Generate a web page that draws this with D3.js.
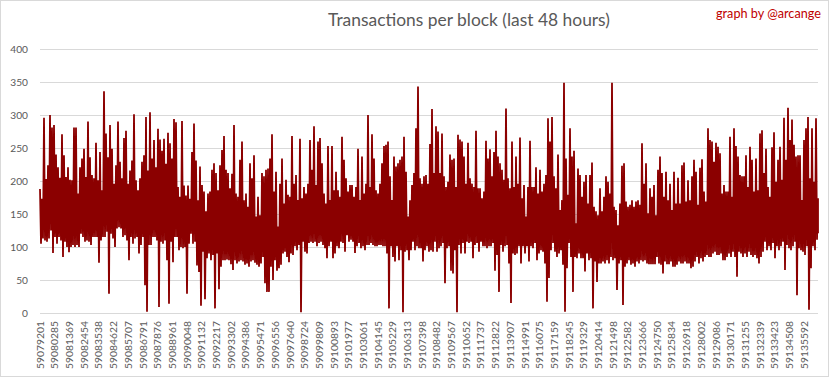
<!DOCTYPE html>
<html><head><meta charset="utf-8">
<script src="https://cdn.jsdelivr.net/npm/d3@7"></script>
<style>html,body{margin:0;padding:0;background:#fff;}svg{display:block;}</style>
</head><body>
<svg id="chart" width="833" height="379"></svg>
<script>
const titleText = "Transactions per block (last 48 hours)";
const creditText = "graph by @arcange";
const yTicks = [0, 50, 100, 150, 200, 250, 300, 350, 400];
const xTickLabels = ["59079201","59080285","59081369","59082454","59083538","59084622","59085707","59086791","59087876","59088961","59090048","59091132","59092217","59093302","59094386","59095471","59096556","59097640","59098724","59099809","59100893","59101977","59103061","59104145","59105229","59106313","59107398","59108482","59109567","59110652","59111737","59112822","59113907","59114991","59116075","59117159","59118245","59119329","59120414","59121498","59122582","59123666","59124750","59125834","59126918","59128002","59129086","59130171","59131255","59132339","59133423","59134508","59135592"];
const firstBlock = 59079201;
const lastBlock = 59136630;

// per-slice maximum and minimum transactions per block, read left to right
const txHigh = [
188,173,296,203,224,300,281,285,240,221,205,271,239,206,221,202,201,281,281,181,
221,234,249,206,290,236,209,204,258,201,244,186,336,272,236,285,249,196,224,290,
229,204,265,276,196,216,231,301,201,186,204,229,239,297,216,304,234,262,221,279,
263,246,264,226,273,257,234,294,289,191,176,291,193,178,193,173,244,287,231,171,
222,194,184,154,181,184,217,227,212,186,224,247,268,217,212,189,211,285,181,176,
232,260,171,181,161,227,204,239,146,176,148,212,207,217,219,234,271,184,214,131,
196,234,166,202,179,176,268,196,209,171,264,174,191,181,196,262,217,283,194,260,
265,227,181,166,253,171,253,186,214,186,176,267,232,204,184,194,194,176,191,249,
171,237,181,196,300,191,271,234,186,181,196,227,253,255,260,207,171,237,222,227,
232,237,267,214,146,171,194,212,280,343,204,
196,207,209,196,256,309,212,283,275,212,272,207,191,199,240,232,234,191,270,263,
260,237,196,258,204,196,191,276,189,189,174,184,261,234,248,207,244,276,237,227,
217,202,310,204,189,260,191,237,196,266,174,194,146,191,261,191,191,221,181,217,
184,196,209,295,260,297,207,189,240,156,171,349,234,179,280,237,246,136,219,209,
176,199,209,166,209,228,161,154,148,189,154,176,207,199,181,349,161,156,133,166,
223,227,169,161,164,171,161,169,171,164,
257,196,227,151,189,176,194,148,217,237,212,176,214,171,196,156,214,166,205,166,
224,228,169,201,171,207,232,214,164,220,233,184,169,280,262,260,229,258,252,242,
181,194,184,184,267,176,280,253,237,209,207,207,239,191,252,232,184,234,186,272,
277,212,249,191,176,251,274,199,232,252,202,296,232,311,262,293,255,237,239,239,
171,262,280,297,204,280,199,295,174
];
const txLow = [
105,113,110,108,113,125,91,115,105,115,110,85,108,100,92,100,103,100,103,100,
120,115,108,110,108,103,115,115,115,76,110,115,115,123,29,120,113,100,128,130,
128,115,118,110,80,115,105,113,115,90,103,115,42,2,103,103,115,115,110,9,
108,105,110,80,14,108,77,115,115,95,100,98,100,29,105,120,105,108,72,62,
11,93,21,83,90,80,88,7,90,36,70,80,80,81,80,74,65,80,75,78,
80,78,73,75,70,78,80,76,73,70,75,85,45,32,32,70,50,80,64,68,
73,90,93,85,77,90,88,101,95,103,1,108,93,90,106,108,106,108,101,106,
108,103,98,83,101,108,83,90,101,98,108,106,93,118,108,111,108,91,101,106,
98,101,95,103,103,106,103,101,101,103,103,101,101,90,7,101,85,78,101,80,
95,1,93,95,80,95,108,95,101,98,98,
78,95,101,93,95,93,108,93,98,101,106,45,98,101,64,60,95,1,103,90,
106,90,108,106,108,83,103,106,93,108,101,101,98,101,101,106,64,88,32,103,
93,101,103,75,15,90,88,90,101,75,101,90,101,78,101,98,106,80,90,95,
93,75,17,53,95,106,93,85,90,95,73,2,68,106,85,32,85,83,90,83,
83,63,90,80,83,7,78,47,75,75,78,75,80,75,85,80,83,35,75,80,
12,70,75,80,73,75,70,78,75,80,
78,80,75,74,74,74,74,85,75,73,60,78,74,74,78,70,70,73,78,75,
75,78,75,75,68,70,78,85,75,83,78,85,88,85,85,90,93,88,88,90,
80,80,85,90,85,93,85,55,93,90,85,90,85,93,88,85,88,83,75,85,
93,108,95,101,95,106,83,101,95,101,108,65,103,98,95,101,108,27,98,95,
93,88,101,5,68,101,95,111,121
];

const W = 833, H = 379;
const plot = {left: 40, right: 818, top: 49, bottom: 313};
const svg = d3.select("#chart");
const FONT = "Lato, 'Open Sans', 'Liberation Sans', sans-serif";

svg.append("rect").attr("x", 0.5).attr("y", 0.5).attr("width", 828).attr("height", 376)
  .attr("fill", "#fff").attr("stroke", "#d9d9d9");

const x = d3.scaleLinear().domain([firstBlock, lastBlock]).range([plot.left, plot.right]);
const y = d3.scaleLinear().domain([0, 400]).range([plot.bottom, plot.top]);

// gridlines
svg.append("g").selectAll("line").data(yTicks).join("line")
  .attr("x1", plot.left).attr("x2", plot.right)
  .attr("y1", d => Math.round(y(d)) + 0.5).attr("y2", d => Math.round(y(d)) + 0.5)
  .attr("stroke", "#d9d9d9").attr("stroke-width", 1);

// y labels
const yl = svg.append("g").selectAll("text").data(yTicks).join("text")
  .attr("x", 28).attr("y", d => y(d)).attr("dy", "0.36em")
  .attr("text-anchor", "end").attr("fill", "#595959")
  .style("font-family", FONT).attr("font-size", 10).text(d => d);
{
  const w = yl.filter(d => d === 400).node().getComputedTextLength();
  yl.attr("font-size", 10 * 17.7 / w);
}

// series: slices alternate between their maximum and minimum
const n = txHigh.length;
const step = (lastBlock - firstBlock) / (n - 1);
const pts = [];
for (let i = 0; i < n; i++) {
  const b = firstBlock + i * step;
  pts.push({block: b, v: txHigh[i]});
  pts.push({block: Math.min(lastBlock, b + step / 2), v: txLow[i]});
}
const line = d3.line().x(d => x(d.block)).y(d => y(d.v));
svg.append("path").datum(pts).attr("d", line)
  .attr("fill", "none").attr("stroke", "#8b0000").attr("stroke-width", 1.8)
  .attr("stroke-linejoin", "miter").attr("stroke-miterlimit", 1);

// x labels
const xg = svg.append("g");
const xl = xg.selectAll("text").data(xTickLabels).join("text")
  .attr("text-anchor", "end").attr("fill", "#595959")
  .style("font-family", FONT).attr("font-size", 10).text(d => d);
const wx = xl.node().getComputedTextLength();
const fsx = 10 * 48 / wx;
xl.attr("font-size", fsx)
  .attr("transform", d => `translate(${x(+d) + 0.36 * fsx},321) rotate(-90)`);

// title
const t = svg.append("text").attr("x", 469).attr("y", 26).attr("text-anchor", "middle")
  .attr("fill", "#595959").style("font-family", FONT).attr("font-size", 16).text(titleText);
t.attr("font-size", 16 * 282 / t.node().getComputedTextLength());

const c = svg.append("text").attr("x", 716).attr("y", 17.5)
  .attr("fill", "#c00000").style("font-family", FONT).attr("font-size", 12).text(creditText);
c.attr("font-size", 12 * 105 / c.node().getComputedTextLength());
</script>
</body></html>
